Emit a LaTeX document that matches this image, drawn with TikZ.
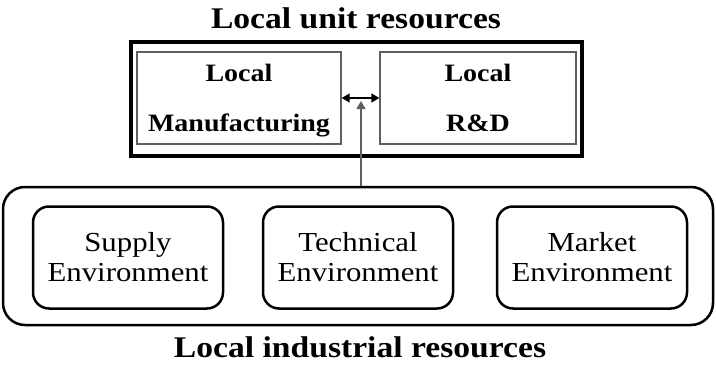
\documentclass[tikz,border=0pt]{standalone}
\usepackage{fontspec}
\setmainfont{Liberation Serif}[FakeStretch=1.12]
\usetikzlibrary{arrows.meta}
\definecolor{boxgray}{RGB}{95,95,95}
\tikzset{
  titletext/.style={font=\fontsize{30}{30}\selectfont\bfseries, inner sep=0pt, anchor=base},
  unitouter/.style={draw=black, line width=3.5pt, minimum width=451pt, minimum height=114pt, inner sep=0pt},
  unitbox/.style={draw=boxgray, line width=1.4pt, minimum height=92pt, inner sep=0pt, align=center,
     text depth=0pt, font=\fontsize{25}{50}\selectfont\bfseries},
  indouter/.style={draw=black, line width=2.5pt, rounded corners=22pt, minimum width=710pt, minimum height=138pt, inner sep=0pt},
  envbox/.style={draw=black, line width=2.5pt, rounded corners=16pt, minimum width=190pt, minimum height=102pt, inner sep=0pt, align=center,
     font=\fontsize{27.5}{30}\selectfont},
  linkarrow/.style={line width=1.4pt, -{Triangle[length=8pt,width=9pt]}},
}
\begin{document}
\begin{tikzpicture}[x=1pt,y=-1pt]
\useasboundingbox (0,0) rectangle (716,367);
\node[titletext] (ttop) at (356,28.5) {Local unit resources};
\node[unitouter] (unit) at (356.5,99) {};
\node[unitbox, minimum width=204pt] (mfg) at (239,98) {Local\\Manufacturing};
\node[unitbox, minimum width=196pt] (rd) at (478,98) {Local\\R\&D};
\node[indouter] (ind) at (358,256) {};
\node[envbox] (sup) at (128,257.5) {Supply\\Environment};
\node[envbox] (tech) at (358,257.5) {Technical\\Environment};
\node[envbox] (mkt) at (592,257.5) {Market\\Environment};
\node[titletext] (tbot) at (360,357) {Local industrial resources};
\draw[line width=1.4pt, {Triangle[length=8pt,width=9pt]}-{Triangle[length=8pt,width=9pt]}] (mfg.east) -- (rd.west);
\coordinate (vtip) at (361,101);
\draw[linkarrow, draw=boxgray] (vtip |- ind.north) -- (vtip);
\end{tikzpicture}
\end{document}
